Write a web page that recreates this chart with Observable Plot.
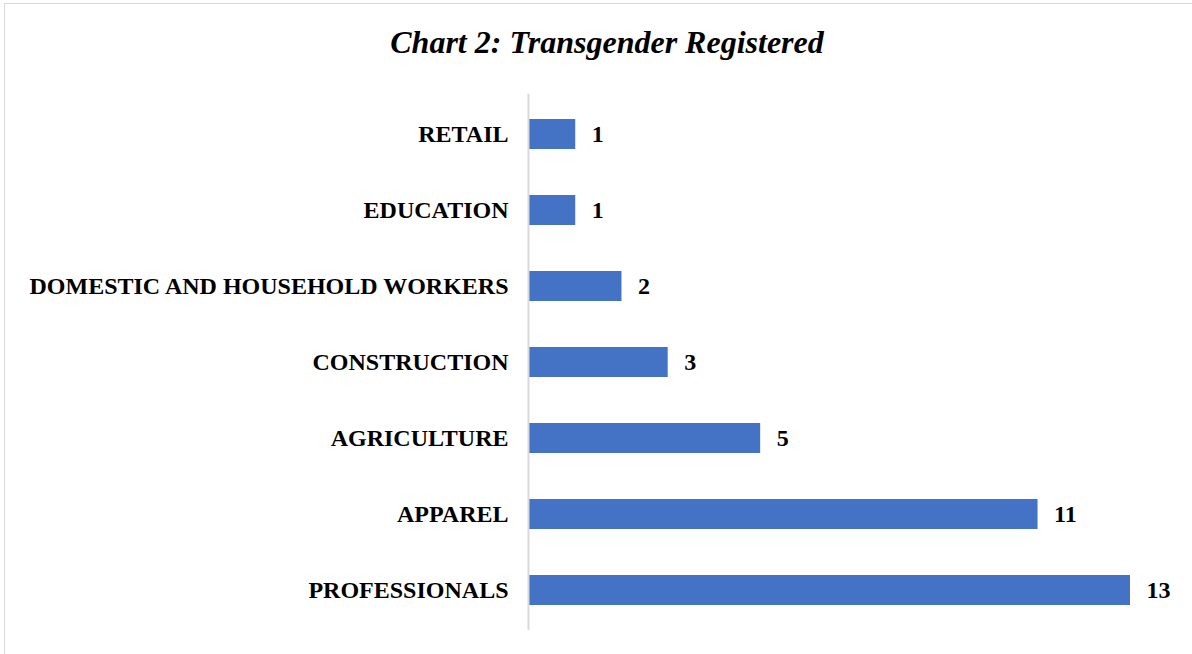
<!DOCTYPE html>
<html>
<head>
<meta charset="utf-8">
<script src="https://cdn.jsdelivr.net/npm/d3@7"></script>
<script src="https://cdn.jsdelivr.net/npm/@observablehq/plot@0.6"></script>
<style>
  html, body { margin: 0; padding: 0; background: #fff; }
  #wrap { position: relative; width: 1192px; height: 654px; overflow: hidden; }
  #frame { position: absolute; left: 4px; top: 3px; width: 1188px; height: 651px; border-left: 1px solid #d9d9d9; border-top: 1px solid #d9d9d9; box-sizing: border-box; }
  #title { position: absolute; left: 0; width: 1214px; top: 24px; text-align: center; font-family: "Liberation Serif", "Times New Roman", serif; font-weight: bold; font-style: italic; font-size: 32px; line-height: 36px; color: #000; }
  #chart { position: absolute; left: 0; top: 0; }
</style>
</head>
<body>
<div id="wrap">
  <div id="frame"></div>
  <div id="title">Chart 2: Transgender Registered</div>
  <div id="chart"></div>
</div>
<script>
const categories = ["RETAIL", "EDUCATION", "DOMESTIC AND HOUSEHOLD WORKERS", "CONSTRUCTION", "AGRICULTURE", "APPAREL", "PROFESSIONALS"];
const values = [1, 1, 2, 3, 5, 11, 13];

const data = categories.map((c, i) => ({category: c, value: values[i]}));

const chart = Plot.plot({
  width: 1192,
  height: 654,
  marginLeft: 529,
  marginRight: 62,
  marginTop: 94,
  marginBottom: 24,
  style: {fontFamily: "'Liberation Serif', 'Times New Roman', serif", background: "transparent"},
  x: {domain: [0, 13], axis: null},
  y: {domain: categories, paddingInner: 0.6, paddingOuter: 0.3, align: 0.5, label: null},
  marks: [
    Plot.barX(data, {y: "category", x: "value", fill: "#4472C4"}),
    Plot.ruleX([0], {stroke: "#d9d9d9", strokeWidth: 2, dx: -1}),
    Plot.text(data, {y: "category", x: "value", text: d => String(d.value), dx: 16, textAnchor: "start", fontSize: 24, fontWeight: "bold", fill: "#000"}),
    Plot.axisY({tickSize: 0, tickPadding: 21, fontSize: 24, fontWeight: "bold", fill: "#000", label: null})
  ]
});
document.getElementById("chart").appendChild(chart);
</script>
</body>
</html>
